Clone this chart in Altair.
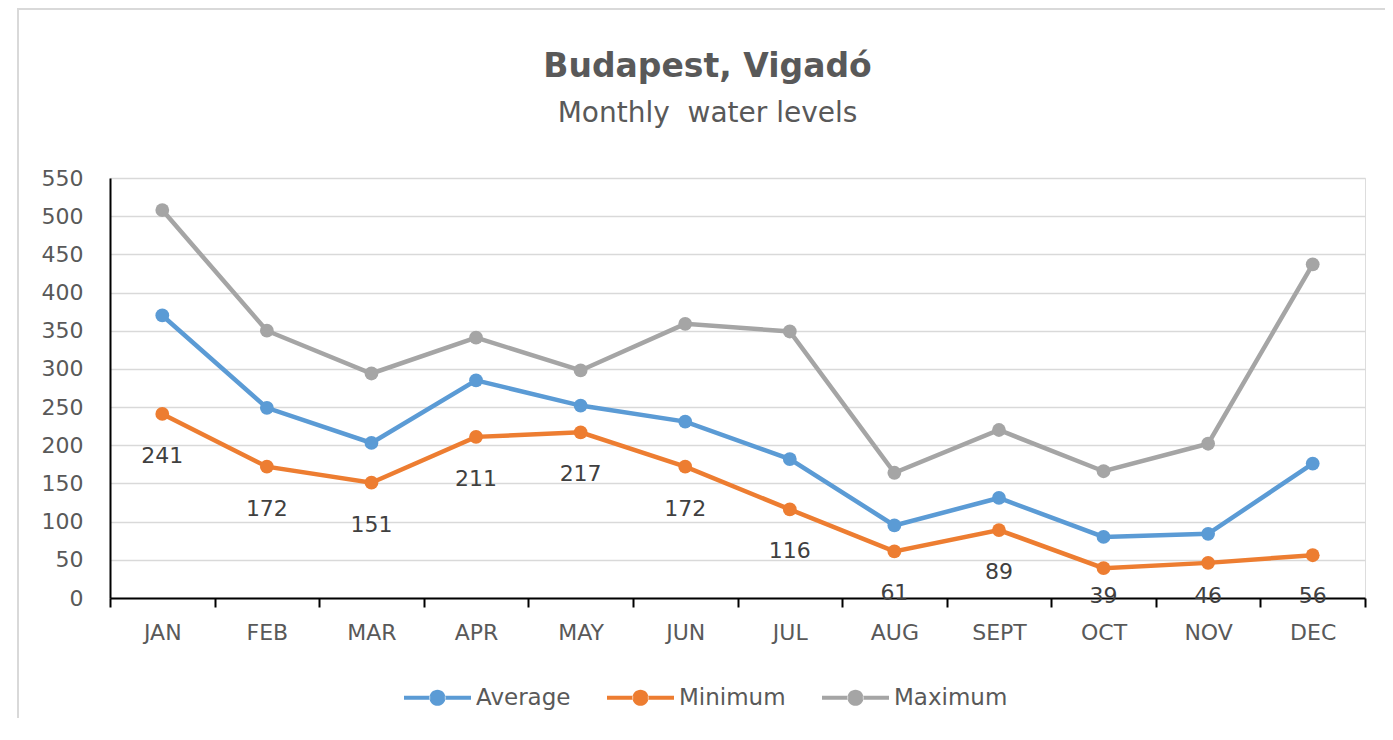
import altair as alt
import pandas as pd

months = ["JAN", "FEB", "MAR", "APR", "MAY", "JUN", "JUL", "AUG", "SEPT", "OCT", "NOV", "DEC"]
average = [370, 249, 203, 285, 252, 231, 182, 95, 131, 80, 84, 176]
minimum = [241, 172, 151, 211, 217, 172, 116, 61, 89, 39, 46, 56]
maximum = [508, 350, 294, 341, 298, 359, 349, 164, 220, 166, 202, 437]
series_names = ["Average", "Minimum", "Maximum"]
series_colors = ["#5B9BD5", "#ED7D31", "#A5A5A5"]
y_ticks = list(range(0, 551, 50))

rows = []
for name, vals in zip(series_names, [average, minimum, maximum]):
    for m, v in zip(months, vals):
        rows.append({"month": m, "series": name, "value": v})
df = pd.DataFrame(rows)

FONT = "DejaVu Sans"
TXT = "#595959"

x_enc = alt.X(
    "month:N",
    sort=months,
    scale=alt.Scale(type="band", paddingInner=0, paddingOuter=0),
    axis=alt.Axis(
        title=None, tickBand="extent", labelAngle=0, domainColor="black",
        domainWidth=2, tickColor="black", tickWidth=2, tickSize=9,
        labelPadding=15, labelFontSize=22, labelColor=TXT, labelFont=FONT,
        grid=False,
    ),
)
y_axis = alt.Axis(
    values=y_ticks, title=None, ticks=False, domainColor="black",
    domainWidth=2, gridColor="#D9D9D9", gridWidth=1.5, labelFontSize=22,
    labelColor=TXT, labelFont=FONT, labelPadding=27,
)
y_scale = alt.Scale(domain=[0, 550], nice=False)
y_enc = alt.Y("value:Q", scale=y_scale, axis=y_axis)
color_scale = alt.Scale(domain=series_names, range=series_colors)

base = alt.Chart(df)

lines = base.mark_line(strokeWidth=4.5).encode(
    x=x_enc, y=y_enc,
    color=alt.Color("series:N", scale=color_scale, sort=series_names, legend=None),
    detail="series:N",
)

legend_symbol = (
    "M-1,-0.06 L-0.22,-0.06 L-0.22,0.06 L-1,0.06 Z "
    "M0.22,-0.06 L1,-0.06 L1,0.06 L0.22,0.06 Z "
    "M-0.24,0 A0.24,0.24 0 1,0 0.24,0 A0.24,0.24 0 1,0 -0.24,0 Z"
)

points = base.mark_circle(size=190, opacity=1).encode(
    x=x_enc, y=y_enc,
    color=alt.Color(
        "series:N", scale=color_scale, sort=series_names,
        legend=alt.Legend(
            title=None, orient="none", direction="horizontal",
            legendX=294, legendY=486, symbolType=legend_symbol,
            symbolSize=4489, symbolStrokeWidth=0, symbolOpacity=1,
            labelFontSize=23, labelColor=TXT, labelFont=FONT,
            labelOffset=5, columnPadding=36,
        ),
    ),
)

# labels sit ~42px below each point, but are kept from dropping under the axis
labels = base.transform_filter(alt.datum.series == "Minimum").transform_calculate(
    label_y="max(datum.value - 55, 2.5)"
).mark_text(fontSize=22, color="#404040", font=FONT).encode(
    x=x_enc,
    y=alt.Y("label_y:Q", scale=y_scale, axis=y_axis),
    text="value:Q",
)

border = alt.Chart(pd.DataFrame({"a": [0]})).mark_rect(
    fill="transparent", stroke="#D9D9D9", strokeWidth=2
).encode(
    x=alt.value(-92), x2=alt.value(1400), y=alt.value(-169), y2=alt.value(700)
)

chart = alt.layer(border, lines, points, labels).resolve_legend(
    color="independent"
).properties(
    width=1255,
    height=420,
    padding={"left": 102, "top": 170, "right": 20, "bottom": 120},
    autosize=alt.AutoSizeParams(type="none"),
    title=alt.TitleParams(
        text="Budapest, Vigadó",
        subtitle="Monthly\u00a0 water levels",
        anchor="middle", dx=-30, offset=-120,
        fontSize=33, fontWeight="bold", color=TXT, font=FONT,
        subtitleFontSize=28, subtitleColor=TXT, subtitleFont=FONT,
        subtitlePadding=16,
    ),
).configure_view(stroke=None).configure(background="white")

chart.save("out.html", embed_options={"renderer": "svg", "actions": False})
